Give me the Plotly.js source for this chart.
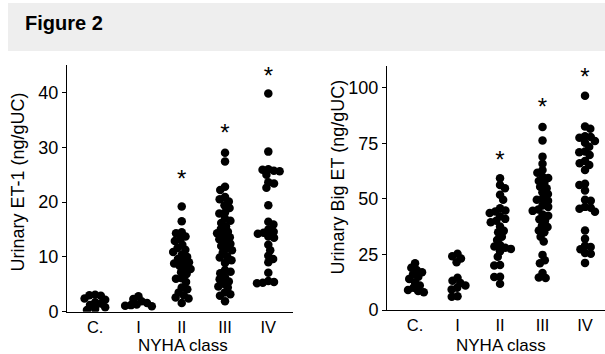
<!DOCTYPE html>
<html>
<head>
<meta charset="utf-8">
<script src="https://cdn.plot.ly/plotly-3.0.1.min.js"></script>
<style>html,body{margin:0;padding:0;background:#fff}#chart{width:605px;height:354px}</style>
</head>
<body>
<div id="chart"></div>
<script>
// ---- Data ----
const categories = ["C.", "I", "II", "III", "IV"];

// Urinary ET-1 (ng/gUC)
const et1_C   = [3.1, 3.0, 2.9, 2.4, 2.2, 1.7, 1.5, 1.2, 0.8, 0.5, 0.3];
const et1_I   = [2.8, 2.3, 1.9, 1.6, 1.3, 1.2, 1.1, 1.0];
const et1_II  = [19.2, 16.5, 14.5, 14.3, 13.7, 13.2, 12.9, 12.2, 11.6, 11.3, 10.9, 10.4, 10.0, 9.6, 9.2, 9.0, 8.8, 8.4, 8.0, 7.8, 7.2, 6.9, 6.1, 6.0, 5.4, 4.4, 4.1, 3.5, 3.0, 2.6, 2.4, 1.6];
const et1_III = [29.0, 27.4, 22.8, 22.2, 20.9, 20.5, 20.1, 19.4, 18.9, 18.1, 17.9, 17.0, 16.6, 16.2, 15.6, 15.1, 14.6, 14.3, 14.0, 13.6, 13.2, 12.8, 12.4, 12.0, 11.6, 11.2, 10.8, 10.1, 9.9, 9.4, 8.9, 7.6, 7.3, 7.0, 6.3, 5.9, 5.5, 5.1, 4.6, 4.4, 3.5, 3.2, 2.9, 1.9];
const et1_IV  = [39.8, 29.2, 26.0, 25.9, 25.7, 25.6, 25.0, 23.6, 23.4, 22.6, 19.4, 16.4, 15.9, 15.0, 14.6, 14.4, 14.2, 13.7, 13.5, 12.2, 11.2, 10.2, 9.6, 9.0, 7.1, 5.6, 5.4, 5.3, 5.2];

// Urinary Big ET (ng/gUC)
const big_C   = [21.0, 19.0, 18.0, 17.0, 16.0, 15.0, 14.0, 12.5, 11.0, 10.0, 9.0, 8.5, 8.0];
const big_I   = [25.3, 24.2, 23.2, 21.5, 14.5, 13.2, 12.2, 11.0, 10.0, 9.2, 6.2, 6.0];
const big_II  = [59.3, 56.2, 54.8, 51.8, 49.6, 45.8, 44.8, 44.3, 43.6, 42.2, 41.0, 40.2, 39.5, 37.6, 35.6, 35.0, 33.0, 31.5, 29.2, 28.6, 28.0, 27.5, 26.4, 24.0, 20.2, 20.0, 15.0, 14.8, 11.8];
const big_III = [82.3, 76.3, 69.0, 65.8, 63.0, 61.8, 60.0, 59.4, 58.0, 57.2, 55.4, 54.8, 53.0, 52.2, 50.0, 49.6, 49.2, 47.0, 46.4, 45.2, 44.6, 43.0, 42.4, 40.8, 40.2, 38.0, 37.3, 35.8, 35.0, 33.0, 30.8, 24.8, 22.4, 21.0, 16.6, 14.6, 14.4];
const big_IV  = [96.4, 82.6, 81.5, 78.2, 77.8, 77.5, 76.0, 75.2, 73.4, 71.3, 71.0, 69.7, 67.0, 66.0, 65.2, 63.0, 56.8, 56.2, 53.8, 49.6, 49.2, 46.4, 46.0, 45.6, 44.2, 35.8, 32.0, 28.9, 28.3, 27.3, 25.6, 25.3, 21.2];

// significance markers (category index, level)
const et1_starCats = [2, 3, 4];
const et1_starVals = [23.8, 32.2, 42.7];
const big_starCats = [2, 3, 4];
const big_starVals = [66.8, 90.3, 103.8];

// ---- Layout geometry ----
const W = 605, H = 354;
const L = {x0: 67, x1: 293, yTop: 65, yBot: 311.7, xr: [-0.65, 4.57], yr: [0, 45]};
const R = {x0: 387, x1: 605, yTop: 65.5, yBot: 310, xr: [-0.66, 4.47], yr: [0, 110]};

function pxPerX(p){ return (p.x1 - p.x0) / (p.xr[1] - p.xr[0]); }
function pxPerY(p){ return (p.yBot - p.yTop) / (p.yr[1] - p.yr[0]); }

// deterministic beeswarm: offsets in px so dots only partly overlap
function swarm(vals, ppy, D){
  const order = vals.map((v,i)=>i).sort((a,b)=>vals[b]-vals[a]);
  const placed = [], off = new Array(vals.length);
  for (const i of order){
    const y = vals[i]*ppy;
    const cands = [0];
    for (const p of placed){
      const dy = Math.abs(p.y - y);
      if (dy < D){ const dx = Math.sqrt(D*D - dy*dy); cands.push(p.x + dx, p.x - dx); }
    }
    const s = placed.length % 2 ? 1 : -1;
    cands.sort((a,b)=>Math.abs(a)-Math.abs(b) || s*(a-b));
    for (const c of cands){
      if (placed.every(p => (p.x-c)*(p.x-c) + (p.y-y)*(p.y-y) >= D*D - 1e-6)){
        placed.push({x:c, y:y}); off[i] = c; break;
      }
    }
  }
  return off;
}

function groupTrace(groups, panel, xa, ya){
  const xs = [], ys = [];
  const ppx = pxPerX(panel), ppy = pxPerY(panel);
  groups.forEach((vals, gi) => {
    const off = swarm(vals, ppy, 5.8);
    vals.forEach((v, k) => { xs.push(gi + off[k]/ppx); ys.push(v); });
  });
  return {x: xs, y: ys, xaxis: xa, yaxis: ya, type: 'scatter', mode: 'markers',
    marker: {color: '#000', size: 8.5, line: {width: 0}}, hoverinfo: 'y', showlegend: false};
}

function starTrace(cats, vals, xa, ya){
  return {x: cats, y: vals, xaxis: xa, yaxis: ya, type: 'scatter', mode: 'text',
    text: cats.map(()=>'*'), textposition: 'middle center', cliponaxis: false,
    textfont: {family: 'Liberation Sans, Arial, sans-serif', size: 24, color: '#000'},
    hoverinfo: 'skip', showlegend: false};
}

const data = [
  groupTrace([et1_C, et1_I, et1_II, et1_III, et1_IV], L, 'x', 'y'),
  groupTrace([big_C, big_I, big_II, big_III, big_IV], R, 'x2', 'y2'),
  starTrace(et1_starCats, et1_starVals, 'x', 'y'),
  starTrace(big_starCats, big_starVals, 'x2', 'y2')
];

const FAM = 'Liberation Sans, Arial, Helvetica, sans-serif';
const font = {family: FAM, size: 18, color: '#000'};
const xfont = {family: FAM, size: 16.5, color: '#000'};
const xtitleFont = {family: FAM, size: 17, color: '#000'};

function xAxis(p){
  return {domain: [p.x0/W, p.x1/W], range: p.xr, tickvals: [0,1,2,3,4], ticktext: categories,
    showline: true, linecolor: '#000', linewidth: 1, ticks: '', showgrid: false, zeroline: false,
    tickfont: xfont, fixedrange: true};
}
function yAxis(p, dt, anchor){
  return {domain: [(H-p.yBot)/H, (H-p.yTop)/H], range: p.yr, dtick: dt, tick0: 0, anchor: anchor,
    showline: true, linecolor: '#000', linewidth: 1, ticks: 'outside', ticklen: 4, tickwidth: 1, tickcolor: '#000',
    showgrid: false, zeroline: false, tickfont: font, fixedrange: true};
}

const layout = {
  width: W, height: H,
  margin: {l: 0, r: 0, t: 0, b: 0},
  paper_bgcolor: '#fff', plot_bgcolor: 'rgba(0,0,0,0)',
  font: font,
  showlegend: false,
  title: {text: '<b>Figure 2</b>', x: 25/W, xanchor: 'left', y: (H-23)/H, yanchor: 'middle',
    font: {family: FAM, size: 20, color: '#000'}},
  xaxis: Object.assign(xAxis(L), {anchor: 'y'}),
  yaxis: yAxis(L, 10, 'x'),
  xaxis2: Object.assign(xAxis(R), {anchor: 'y2'}),
  yaxis2: yAxis(R, 25, 'x2'),
  shapes: [{type: 'rect', xref: 'paper', yref: 'paper', x0: 8/W, x1: 1, y0: (H-51)/H, y1: (H-3)/H,
    fillcolor: '#eeeeee', line: {width: 0}, layer: 'below'}],
  annotations: [
    {text: 'Urinary ET-1 (ng/gUC)', xref: 'paper', yref: 'paper', x: 17/W, y: (H-182.5)/H,
     textangle: -90, showarrow: false, font: font, xanchor: 'center', yanchor: 'middle'},
    {text: 'Urinary Big ET (ng/gUC)', xref: 'paper', yref: 'paper', x: 337/W, y: (H-177.5)/H,
     textangle: -90, showarrow: false, font: font, xanchor: 'center', yanchor: 'middle'},
    {text: 'NYHA class', xref: 'paper', yref: 'paper', x: 182.5/W, y: (H-345.5)/H,
     showarrow: false, font: xtitleFont, xanchor: 'center', yanchor: 'middle'},
    {text: 'NYHA class', xref: 'paper', yref: 'paper', x: 500.5/W, y: (H-345.5)/H,
     showarrow: false, font: xtitleFont, xanchor: 'center', yanchor: 'middle'}
  ]
};

Plotly.newPlot('chart', data, layout, {displayModeBar: false, staticPlot: true});
</script>
</body>
</html>
